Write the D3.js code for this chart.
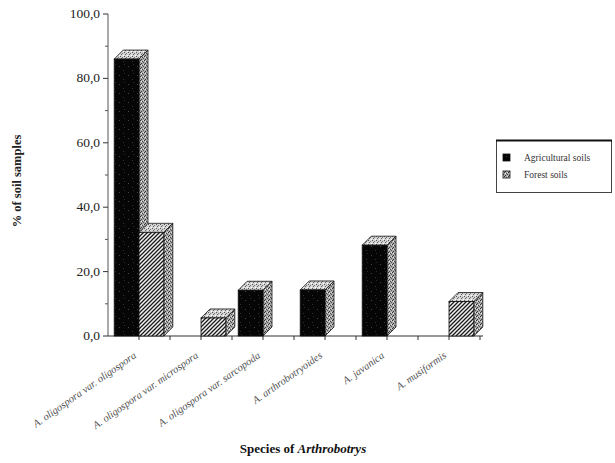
<!DOCTYPE html>
<html><head><meta charset="utf-8">
<script src="https://cdn.jsdelivr.net/npm/d3@7"></script>
<style>body{margin:0;background:#fff}svg{display:block}</style>
</head><body>
<svg id="c" width="615" height="463"></svg>
<script>
const categories = ["A. oligospora var. oligospora","A. oligospora var. microspora","A. oligospora var. sarcopoda","A. arthrobotryoides","A. javanica","A. musiformis"];
const seriesNames = ["Agricultural soils","Forest soils"];
const agricultural = [86, 0, 14.2, 14.3, 28.2, 0];
const forest = [32.2, 5.6, 0, 0, 0, 10.7];
const yTicks = [0,20,40,60,80,100];
const yTickLabels = ["0,0","20,0","40,0","60,0","80,0","100,0"];

const svg = d3.select("#c");
const defs = svg.append("defs");
function dotPattern(id, size, bg, dots){
  const p = defs.append("pattern").attr("id",id).attr("width",size).attr("height",size).attr("patternUnits","userSpaceOnUse");
  p.append("rect").attr("width",size).attr("height",size).attr("fill",bg);
  dots.forEach(([x,y,c])=>p.append("rect").attr("x",x).attr("y",y).attr("width",1).attr("height",1).attr("fill",c));
}
dotPattern("agFront", 9, "#060606", [[2,3,"#444"],[6,7,"#333"],[7,1,"#2a2a2a"]]);
dotPattern("stipple", 4, "#a8a8a8", [[0,0,"#333"],[2,1,"#444"],[1,3,"#3a3a3a"],[3,2,"#555"],[1,1,"#eee"],[3,0,"#ddd"]]);
dotPattern("stippleLight", 4, "#d4d4d4", [[0,0,"#555"],[2,1,"#777"],[3,3,"#fff"],[1,2,"#666"]]);
const hat = defs.append("pattern").attr("id","hatch").attr("width",4).attr("height",4).attr("patternUnits","userSpaceOnUse");
hat.append("rect").attr("width",4).attr("height",4).attr("fill","#f4f4f4");
hat.append("path").attr("d","M-1,1 l2,-2 M0,4 l4,-4 M3,5 l2,-2").attr("stroke","#1a1a1a").attr("stroke-width",1.3);

const x0 = d3.scaleBand().domain(categories).range([108,480]).padding(0);
const x1 = d3.scaleBand().domain(seriesNames).range([0,x0.bandwidth()]).paddingInner(0).paddingOuter(0.25);
const y = d3.scaleLinear().domain([0,100]).range([336,14]);
const dx = 9, dy = 9;

// y axis
const g = svg.append("g");
g.append("line").attr("x1",108).attr("x2",108).attr("y1",y(100)).attr("y2",y(0)).attr("stroke","#555").attr("stroke-width",1);
const minor = d3.range(10,100,20);
g.selectAll(".mn").data(minor).enter().append("line").attr("x1",105).attr("x2",108).attr("y1",d=>y(d)).attr("y2",d=>y(d)).attr("stroke","#555");
g.selectAll(".mj").data(yTicks).enter().append("line").attr("x1",103).attr("x2",108).attr("y1",d=>y(d)).attr("y2",d=>y(d)).attr("stroke","#333");
g.selectAll(".yl").data(yTicks).enter().append("text").attr("x",100).attr("y",d=>y(d)+4).attr("text-anchor","end")
  .attr("font-family","Liberation Serif, serif").attr("font-size",13.5).attr("fill","#222").text((d,i)=>yTickLabels[i]);

// x axis
g.append("line").attr("x1",108).attr("x2",483).attr("y1",y(0)).attr("y2",y(0)).attr("stroke","#333").attr("stroke-width",1.2);
const xt = [];
categories.forEach(c=>{xt.push(x0(c)+x0.bandwidth()/2); xt.push(x0(c)+x0.bandwidth());});
g.selectAll(".xt").data(xt).enter().append("line").attr("x1",d=>d).attr("x2",d=>d).attr("y1",y(0)).attr("y2",y(0)+4).attr("stroke","#333");

// bars
const data = [];
categories.forEach((c,i)=>{
  data.push({c, s:seriesNames[0], v:agricultural[i]});
  data.push({c, s:seriesNames[1], v:forest[i]});
});
const bars = svg.append("g").selectAll("g").data(data.filter(d=>d.v>0)).enter().append("g");
bars.each(function(d){
  const el = d3.select(this);
  const xa = x0(d.c)+x1(d.s), w = x1.bandwidth(), yt = y(d.v), yb = y(0);
  const ag = d.s===seriesNames[0];
  el.append("polygon").attr("points",[[xa+w,yt],[xa+w+dx,yt-dy],[xa+w+dx,yb-dy],[xa+w,yb]].join(" "))
    .attr("fill","url(#stipple)").attr("stroke","#111").attr("stroke-width",0.8);
  el.append("polygon").attr("points",[[xa,yt],[xa+dx,yt-dy],[xa+w+dx,yt-dy],[xa+w,yt]].join(" "))
    .attr("fill","url(#stippleLight)").attr("stroke","#111").attr("stroke-width",0.8);
  el.append("rect").attr("x",xa).attr("y",yt).attr("width",w).attr("height",yb-yt)
    .attr("fill",ag?"url(#agFront)":"url(#hatch)").attr("stroke","#111").attr("stroke-width",0.8);
});

// x tick labels
svg.append("g").selectAll("text").data(categories).enter().append("text")
  .attr("transform",d=>`translate(${x0(d)+x0.bandwidth()/2-2},357) rotate(-35)`)
  .attr("text-anchor","end").attr("font-family","Liberation Serif, serif").attr("font-style","italic")
  .attr("font-size",10.5).attr("fill","#555").text(d=>d);

// axis titles
svg.append("text").attr("transform","translate(21,181) rotate(-90)").attr("text-anchor","middle")
  .attr("font-family","Liberation Serif, serif").attr("font-weight","bold").attr("font-size",12.5).attr("fill","#222").text("% of soil samples");
const xtitle = svg.append("text").attr("x",303).attr("y",453).attr("text-anchor","middle")
  .attr("font-family","Liberation Serif, serif").attr("font-weight","bold").attr("font-size",13).attr("fill","#111");
xtitle.append("tspan").text("Species of ");
xtitle.append("tspan").attr("font-style","italic").text("Arthrobotrys");

// legend
const lg = svg.append("g");
lg.append("rect").attr("x",496.5).attr("y",140.5).attr("width",115).attr("height",52).attr("fill","#fff").attr("stroke","#444").attr("stroke-width",1);
lg.append("line").attr("x1",496).attr("x2",612).attr("y1",140.5).attr("y2",140.5).attr("stroke","#111").attr("stroke-width",2);
const lfill = ["url(#agFront)","url(#stipple)"];
lg.selectAll(".sw").data(seriesNames).enter().append("rect").attr("x",503).attr("y",(d,i)=>154+i*17).attr("width",7).attr("height",7)
  .attr("fill",(d,i)=>lfill[i]).attr("stroke","#111").attr("stroke-width",0.8);
lg.selectAll(".lt").data(seriesNames).enter().append("text").attr("x",524).attr("y",(d,i)=>161+i*17)
  .attr("font-family","Liberation Serif, serif").attr("font-size",9.5).attr("fill","#333").text(d=>d);
</script>
</body></html>
